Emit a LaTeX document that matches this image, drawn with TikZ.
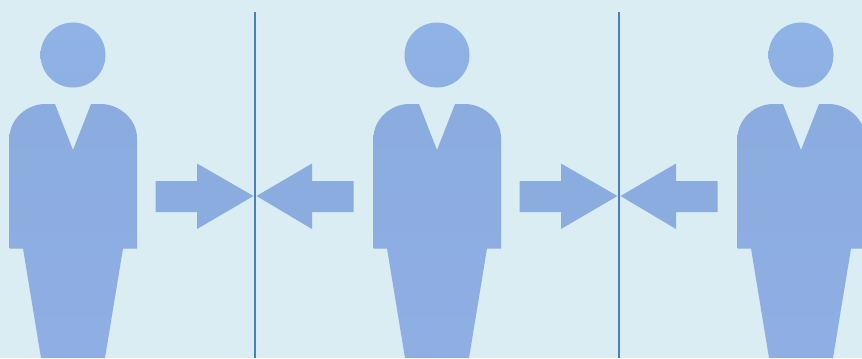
\documentclass[tikz,border=0pt]{standalone}
\definecolor{sfondo}{HTML}{DAEDF3}
\definecolor{figuraA}{HTML}{90B3E6}
\definecolor{figuraB}{HTML}{8BACDF}
\definecolor{figuraC}{HTML}{8FAFE4}
\definecolor{linea}{HTML}{4A7EC2}
\begin{document}
\begin{tikzpicture}[x=0.75pt, y=-0.75pt,
    persona/.style={top color=figuraB, bottom color=figuraC},
    testa/.style={top color=figuraA, bottom color=figuraA!60!figuraB},
    freccia/.style={fill=figuraB},
    divisore/.style={linea, line width=2.2pt}]

    % Sfondo
    \fill[sfondo] (0, 0) rectangle (862, 358);
    \useasboundingbox (0, 0) rectangle (862, 358);
    \clip (0, 0) rectangle (862, 358);

    % Persone
    \foreach \dx in {0, 364, 728} {
        \shade[testa] (73 + \dx, 55) circle (32.5);
        \shade[persona] (9.5 + \dx, 248.5) -- (9.5 + \dx, 138)
            .. controls (9.5 + \dx, 119) and (27 + \dx, 104) .. (45 + \dx, 104)
            -- (55 + \dx, 104) -- (73 + \dx, 150) -- (91 + \dx, 104) -- (101 + \dx, 104)
            .. controls (119 + \dx, 104) and (137 + \dx, 119) .. (137 + \dx, 138)
            -- (137 + \dx, 248.5) -- (123 + \dx, 248.5) -- (105 + \dx, 358)
            -- (41 + \dx, 358) -- (23 + \dx, 248.5) -- cycle;
    }

    % Frecce e linee verticali
    \foreach \dx in {0, 364} {
        \fill[freccia] (155.5 + \dx, 181) -- (197 + \dx, 181) -- (197 + \dx, 163.5)
            -- (253.5 + \dx, 196) -- (197 + \dx, 229) -- (197 + \dx, 212) -- (155.5 + \dx, 212) -- cycle;
        \fill[freccia] (353.5 + \dx, 181) -- (312 + \dx, 181) -- (312 + \dx, 163.5)
            -- (256.5 + \dx, 196) -- (312 + \dx, 229) -- (312 + \dx, 212) -- (353.5 + \dx, 212) -- cycle;
        \draw[divisore] (255 + \dx, 12) -- (255 + \dx, 358);
    }

\end{tikzpicture}
\end{document}
